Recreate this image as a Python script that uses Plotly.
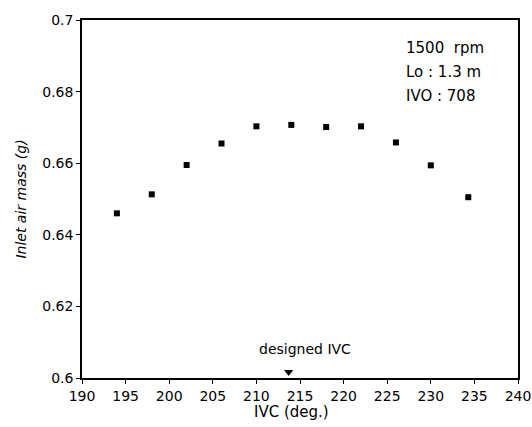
import plotly.graph_objects as go

ivc_deg = [194, 198, 202, 206, 210, 214, 218, 222, 226, 230, 234.3]
air_mass_g = [0.646, 0.6513, 0.6595, 0.6655, 0.6703, 0.6707, 0.6701, 0.6703, 0.6658, 0.6594, 0.6505]
designed_ivc = 213.7
x_ticks = [190, 195, 200, 205, 210, 215, 220, 225, 230, 235, 240]
y_ticks = [0.6, 0.62, 0.64, 0.66, 0.68, 0.7]
y_tick_text = ["0.6", "0.62", "0.64", "0.66", "0.68", "0.7"]
conditions = ["1500  rpm", "Lo : 1.3 m", "IVO : 708"]

FONT = "DejaVu Sans"

fig = go.Figure()
fig.add_trace(go.Scatter(
    x=ivc_deg, y=air_mass_g, mode="markers",
    marker=dict(symbol="square", size=6, color="black"),
    showlegend=False, cliponaxis=False,
))
fig.add_trace(go.Scatter(
    x=[designed_ivc], y=[0.6017], mode="markers",
    marker=dict(symbol="triangle-down", size=8, color="black"),
    showlegend=False, cliponaxis=False,
))

annotations = [
    dict(x=215.6, y=0.6081, xref="x", yref="y", text="designed IVC", showarrow=False,
         font=dict(family=FONT, size=14, color="black"), xanchor="center", yanchor="middle"),
    dict(x=214.0, y=412, xref="x", yref="paper", text="IVC (deg.)", showarrow=False,
         font=dict(family=FONT, size=15, color="black"), xanchor="center", yanchor="middle"),
]
for i, t in enumerate(conditions):
    annotations.append(dict(
        x=404, y=48 + 24 * i, text=t, showarrow=False, xanchor="left", yanchor="middle",
        font=dict(family=FONT, size=15, color="black"),
    ))

# convert pixel-based annotation positions to paper coordinates
W, H = 532, 427
ML, MR, MT, MB = 82, 14, 20, 49
pw, ph = W - ML - MR, H - MT - MB
for a in annotations:
    if a.get("xref") is None:
        a["xref"] = "paper"
        a["yref"] = "paper"
        a["x"] = (a["x"] - ML) / pw
        a["y"] = 1 - (a["y"] - MT) / ph
    elif a.get("yref") == "paper":
        a["y"] = 1 - (a["y"] - MT) / ph

fig.update_layout(
    width=W, height=H,
    margin=dict(l=ML, r=MR, t=MT, b=MB, autoexpand=False),
    paper_bgcolor="white", plot_bgcolor="white",
    font=dict(family=FONT, color="black"),
    annotations=annotations,
)
fig.update_xaxes(
    range=[190, 240], tickvals=x_ticks, ticks="outside", ticklen=4, tickwidth=1.2,
    tickcolor="black", showline=True, linecolor="black", linewidth=1.5, mirror=True,
    showgrid=False, zeroline=False, tickfont=dict(family=FONT, size=14, color="black"),
)
fig.update_yaxes(
    range=[0.6, 0.7], tickvals=y_ticks, ticktext=y_tick_text, ticks="outside", ticklen=4,
    tickwidth=1.2, tickcolor="black", showline=True, linecolor="black", linewidth=1.5,
    mirror=True, showgrid=False, zeroline=False,
    tickfont=dict(family=FONT, size=14, color="black"),
    title=dict(text="<i>Inlet air mass (g)</i>", font=dict(family=FONT, size=14, color="black"),
               standoff=12),
)

fig.write_html("out.html", config={"displayModeBar": False},
               post_script="document.body.style.margin='0';")
